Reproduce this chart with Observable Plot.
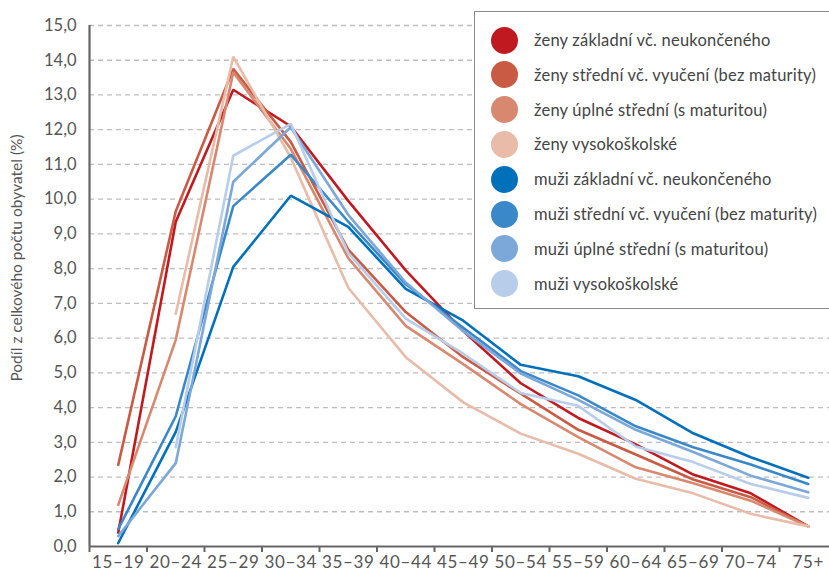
<!DOCTYPE html>
<html>
<head>
<meta charset="utf-8">
<script src="https://cdn.jsdelivr.net/npm/d3@7"></script>
<script src="https://cdn.jsdelivr.net/npm/@observablehq/plot@0.6"></script>
<style>
  html, body { margin: 0; padding: 0; background: #fff; overflow: hidden; }
  #wrap { position: relative; width: 829px; height: 574px; overflow: hidden; font-family: "Lato", "Noto Sans", sans-serif; }
  #legend { position: absolute; left: 474px; top: 11px; width: 370px; height: 298px; border: 1.5px solid #8a8a8a; background: #fff; box-sizing: border-box; }
  .item { position: absolute; left: 16px; height: 28px; display: flex; align-items: center; font-size: 16.5px; letter-spacing: 0.2px; color: #444; white-space: nowrap; }
  .dot { width: 27px; height: 27px; border-radius: 50%; margin-right: 16px; flex: none; }
  .xt text { letter-spacing: 0.6px; }
</style>
</head>
<body>
<div id="wrap"><div id="chart"></div><div id="legend"></div></div>
<script>
const ageGroups = ["15–19","20–24","25–29","30–34","35–39","40–44","45–49","50–54","55–59","60–64","65–69","70–74","75+"];
const seriesNames = [
  "ženy základní vč. neukončeného",
  "ženy střední vč. vyučení (bez maturity)",
  "ženy úplné střední (s maturitou)",
  "ženy vysokoškolské",
  "muži základní vč. neukončeného",
  "muži střední vč. vyučení (bez maturity)",
  "muži úplné střední (s maturitou)",
  "muži vysokoškolské"
];
const seriesColors = ["#c0191f","#c95a44","#d98870","#e9bba9","#0070bb","#3b88c9","#7ba7d9","#b8cdea"];

const zenyZakladni = [0.4, 9.35, 13.15, 12.1, 9.95, 7.95, 6.2, 4.7, 3.7, 2.94, 2.07, 1.53, 0.58];
const zenyStredni  = [2.35, 9.65, 13.75, 11.65, 8.55, 6.75, 5.45, 4.4, 3.36, 2.65, 1.93, 1.42, 0.58];
const zenyUplne    = [1.2, 5.95, 13.65, 11.45, 8.3, 6.35, 5.25, 4.1, 3.15, 2.28, 1.82, 1.32, 0.58];
const zenyVS       = [null, 6.7, 14.1, 11.2, 7.45, 5.45, 4.15, 3.25, 2.67, 1.95, 1.53, 0.94, 0.58];
const muziZakladni = [0.1, 3.3, 8.05, 10.1, 9.2, 7.42, 6.5, 5.23, 4.9, 4.22, 3.26, 2.57, 1.98];
const muziStredni  = [0.5, 3.75, 9.8, 11.28, 9.35, 7.55, 6.3, 5.05, 4.35, 3.46, 2.86, 2.36, 1.8];
const muziUplne    = [0.3, 2.4, 10.5, 12.07, 9.55, 7.6, 6.2, 4.98, 4.22, 3.36, 2.72, 2.04, 1.56];
const muziVS       = [null, 2.86, 11.25, 12.17, 8.45, 6.56, 5.55, 4.42, 4.05, 2.88, 2.43, 1.8, 1.4];

const yTicks = [0,1,2,3,4,5,6,7,8,9,10,11,12,13,14,15];
const yLabel = "Podíl z celkového počtu obyvatel (%)";

const seriesValues = [zenyZakladni, zenyStredni, zenyUplne, zenyVS, muziZakladni, muziStredni, muziUplne, muziVS];
const data = [];
seriesValues.forEach((vals, s) => vals.forEach((v, i) => {
  if (v !== null) data.push({series: seriesNames[s], i, value: v});
}));

const fmt = d => d.toFixed(1).replace(".", ",");

const chart = Plot.plot({
  width: 829,
  height: 574,
  marginTop: 25,
  marginBottom: 28,
  marginLeft: 89,
  marginRight: 0,
  style: {fontFamily: "Lato, 'Noto Sans', sans-serif", fontSize: "16px", color: "#555", background: "#fff"},
  x: {domain: [-0.5, ageGroups.length - 0.5], range: [89, 89 + 57.5 * ageGroups.length]},
  y: {domain: [0, 15]},
  color: {domain: seriesNames, range: seriesColors},
  marks: [
    Plot.gridY(yTicks.filter(d => d > 0), {stroke: "#bdbdbd", strokeOpacity: 1, strokeWidth: 1.3, strokeDasharray: "5,4"}),
    Plot.axisY(yTicks, {tickSize: 0, tickPadding: 13, tickFormat: fmt, label: null, fontSize: 16.5}),
    Plot.axisX(d3.range(ageGroups.length), {tickSize: 0, tickPadding: 9, tickFormat: i => ageGroups[i], label: null, fontSize: 17, className: "xt"}),
    Plot.axisX(d3.range(-0.5, ageGroups.length, 1), {tickSize: 6, tickFormat: () => "", label: null, stroke: "#666", strokeWidth: 2}),
    Plot.text([yLabel], {frameAnchor: "left", rotate: -90, textAnchor: "middle", dx: -72, dy: -28, fontSize: 15.5, fill: "#555"}),
    Plot.lineY(data, {x: "i", y: "value", z: "series", stroke: "series", strokeWidth: 2.6, strokeLinejoin: "miter"}),
    Plot.ruleX([-0.5], {stroke: "#666", strokeWidth: 2.2}),
    Plot.ruleY([0], {stroke: "#666", strokeWidth: 2.2})
  ]
});
document.getElementById("chart").appendChild(chart);

const legend = document.getElementById("legend");
seriesNames.forEach((name, k) => {
  const it = document.createElement("div");
  it.className = "item";
  it.style.top = (14 + k * 34.8) + "px";
  const dot = document.createElement("span");
  dot.className = "dot";
  dot.style.background = seriesColors[k];
  const t = document.createElement("span");
  t.textContent = name;
  it.appendChild(dot); it.appendChild(t);
  legend.appendChild(it);
});
</script>
</body>
</html>
